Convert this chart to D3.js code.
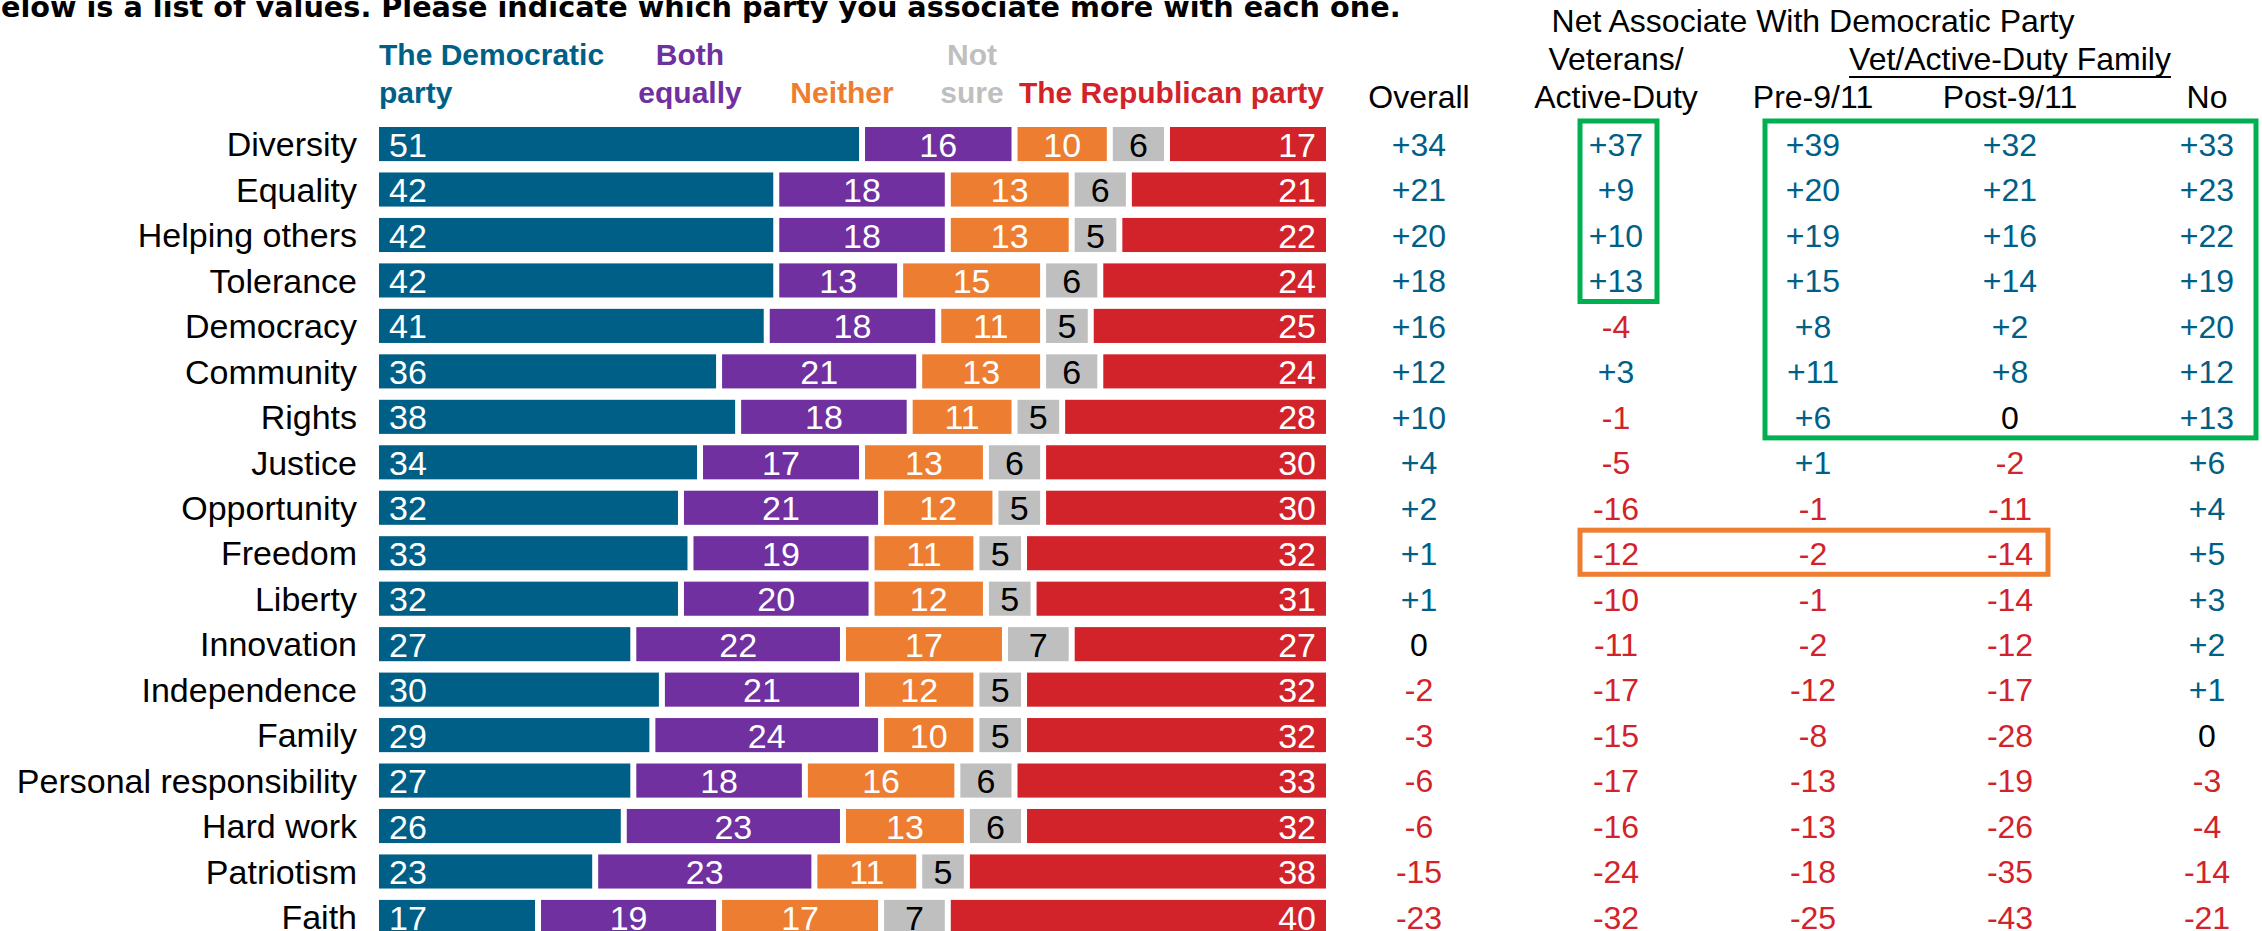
<!DOCTYPE html>
<html>
<head>
<meta charset="utf-8">
<script src="https://cdn.jsdelivr.net/npm/d3@7"></script>
<style>
  body { margin: 0; background: #fff; }
  svg { display: block; }
  text { font-family: "Liberation Sans", Arial, sans-serif; }
</style>
</head>
<body>
<script>
var width = 2262,
    height = 931;

var categories = ["Diversity", "Equality", "Helping others", "Tolerance", "Democracy",
    "Community", "Rights", "Justice", "Opportunity", "Freedom", "Liberty", "Innovation",
    "Independence", "Family", "Personal responsibility", "Hard work", "Patriotism", "Faith"];

var series_names = ["The Democratic party", "Both equally", "Neither", "Not sure", "The Republican party"];

var dem     = [51, 42, 42, 42, 41, 36, 38, 34, 32, 33, 32, 27, 30, 29, 27, 26, 23, 17];
var both    = [16, 18, 18, 13, 18, 21, 18, 17, 21, 19, 20, 22, 21, 24, 18, 23, 23, 19];
var neither = [10, 13, 13, 15, 11, 13, 11, 13, 12, 11, 12, 17, 12, 10, 16, 13, 11, 17];
var notsure = [ 6,  6,  5,  6,  5,  6,  5,  6,  5,  5,  5,  7,  5,  5,  6,  6,  5,  7];
var rep     = [17, 21, 22, 24, 25, 24, 28, 30, 30, 32, 31, 27, 32, 32, 33, 32, 38, 40];

var net_cols = ["Overall", "Veterans", "Pre", "Post", "No"];
var overall  = [34, 21, 20, 18, 16, 12, 10, 4, 2, 1, 1, 0, -2, -3, -6, -6, -15, -23];
var veterans = [37, 9, 10, 13, -4, 3, -1, -5, -16, -12, -10, -11, -17, -15, -17, -16, -24, -32];
var pre911   = [39, 20, 19, 15, 8, 11, 6, 1, -1, -2, -1, -2, -12, -8, -13, -13, -18, -25];
var post911  = [32, 21, 16, 14, 2, 8, 0, -2, -11, -14, -14, -12, -17, -28, -19, -26, -35, -43];
var nofamily = [33, 23, 22, 19, 20, 12, 13, 6, 4, 5, 3, 2, 1, 0, -3, -4, -14, -21];

var title = "Below is a list of values. Please indicate which party you associate more with each one.";

var colors = ["#005f87", "#7030a0", "#ed7d31", "#bfbfbf", "#d2222a"];
var label_colors = ["#fff", "#fff", "#fff", "#000", "#fff"];
var blue = "#005f87", red = "#d2222a", green = "#00b050", orange = "#ed7d31";

var svg = d3.select("body").append("svg")
    .attr("width", width)
    .attr("height", height);

var gap = 6;
var x = d3.scaleLinear().domain([0, 100]).range([379, 1332]);
var y = d3.scaleBand().domain(categories).range([127, 934]).paddingInner(0.25).paddingOuter(0);

var col_x = d3.scalePoint().domain(net_cols).range([1419, 2207]);

// title, first letter falls off the left edge; sized so it ends near x=1400
var t = svg.append("text")
    .attr("x", 0)
    .attr("y", 17)
    .style("font-family", "'DejaVu Sans', sans-serif")
    .style("font-size", "24px")
    .style("font-weight", "bold")
    .text(title);
var tw = t.node().getComputedTextLength(),
    bw = t.node().getSubStringLength(0, 1);
var fs = 24 * 1400 / (tw - bw);
t.style("font-size", fs + "px");
bw = t.node().getSubStringLength(0, 1);
t.attr("x", 1 - bw);

// legend
var legend = [
    {lines: ["The Democratic", "party"], x: 379, anchor: "start", c: colors[0]},
    {lines: ["Both", "equally"], x: 690, anchor: "middle", c: colors[1]},
    {lines: ["", "Neither"], x: 842, anchor: "middle", c: colors[2]},
    {lines: ["Not", "sure"], x: 972, anchor: "middle", c: colors[3]},
    {lines: ["", "The Republican party"], x: 1324, anchor: "end", c: colors[4]}
];
legend.forEach(function(l) {
    l.lines.forEach(function(s, i) {
        svg.append("text")
            .attr("x", l.x)
            .attr("y", 65 + i * 38)
            .attr("text-anchor", l.anchor)
            .style("font-size", "30px")
            .style("font-weight", "bold")
            .style("fill", l.c)
            .text(s);
    });
});

// row labels
svg.selectAll(".row-label")
    .data(categories)
    .enter().append("text")
    .attr("class", "row-label")
    .attr("x", 357)
    .attr("y", function(d) { return y(d) + y.bandwidth() / 2; })
    .attr("dy", "0.36em")
    .attr("text-anchor", "end")
    .style("font-size", "34px")
    .text(function(d) { return d; });

// stacked bars
var stack_data = categories.map(function(c, i) {
    return {cat: c, vals: [dem[i], both[i], neither[i], notsure[i], rep[i]]};
});

stack_data.forEach(function(row) {
    var cum = 0;
    row.vals.forEach(function(v, k) {
        var x0 = x(cum), x1 = x(cum + v);
        svg.append("rect")
            .attr("x", x0)
            .attr("y", y(row.cat))
            .attr("width", x1 - x0 - gap)
            .attr("height", y.bandwidth())
            .style("fill", colors[k]);

        var lx, anchor;
        if (k == 0)      { lx = x0 + 10; anchor = "start"; }
        else if (k == 4) { lx = x1 - gap - 10; anchor = "end"; }
        else             { lx = (x0 + x1 - gap) / 2; anchor = "middle"; }

        svg.append("text")
            .attr("x", lx)
            .attr("y", y(row.cat) + y.bandwidth() / 2)
            .attr("dy", "0.37em")
            .attr("text-anchor", anchor)
            .style("font-size", "34px")
            .style("fill", label_colors[k])
            .text(v);
        cum += v;
    });
});

// net columns headers
var hdr = [
    {t: "Net Associate With Democratic Party", x: 1813, y: 32},
    {t: "Veterans/", x: col_x("Veterans"), y: 70},
    {t: "Overall", x: col_x("Overall"), y: 108},
    {t: "Active-Duty", x: col_x("Veterans"), y: 108},
    {t: "Pre-9/11", x: col_x("Pre"), y: 108},
    {t: "Post-9/11", x: col_x("Post"), y: 108},
    {t: "No", x: col_x("No"), y: 108}
];
hdr.forEach(function(h) {
    svg.append("text")
        .attr("x", h.x)
        .attr("y", h.y)
        .attr("text-anchor", "middle")
        .style("font-size", "32px")
        .text(h.t);
});
var fam = svg.append("text")
    .attr("x", col_x("Post"))
    .attr("y", 70)
    .attr("text-anchor", "middle")
    .style("font-size", "32px")
    .text("Vet/Active-Duty Family");
var fb = fam.node().getBBox();
svg.append("line")
    .attr("x1", fb.x).attr("x2", fb.x + fb.width)
    .attr("y1", 77).attr("y2", 77)
    .style("stroke", "#000")
    .style("stroke-width", 2);

// net values
var net_vals = [overall, veterans, pre911, post911, nofamily];
net_vals.forEach(function(vals, j) {
    svg.selectAll(".net-" + j)
        .data(vals)
        .enter().append("text")
        .attr("class", "net-" + j)
        .attr("x", col_x(net_cols[j]))
        .attr("y", function(d, i) { return y(categories[i]) + y.bandwidth() / 2; })
        .attr("dy", "0.37em")
        .attr("text-anchor", "middle")
        .style("font-size", "32px")
        .style("fill", function(d) { return d > 0 ? blue : (d < 0 ? red : "#000"); })
        .text(function(d) { return d > 0 ? "+" + d : "" + d; });
});

// highlight boxes
function box(x0, x1, c0, c1, col) {
    svg.append("rect")
        .attr("x", x0)
        .attr("y", y(c0) - 6)
        .attr("width", x1 - x0)
        .attr("height", y(c1) + y.bandwidth() + 10 - y(c0))
        .style("fill", "none")
        .style("stroke", col)
        .style("stroke-width", 5);
}
box(1580, 1657, "Diversity", "Tolerance", green);
box(1765, 2256, "Diversity", "Rights", green);
box(1580, 2048, "Freedom", "Freedom", orange);
</script>
</body>
</html>
